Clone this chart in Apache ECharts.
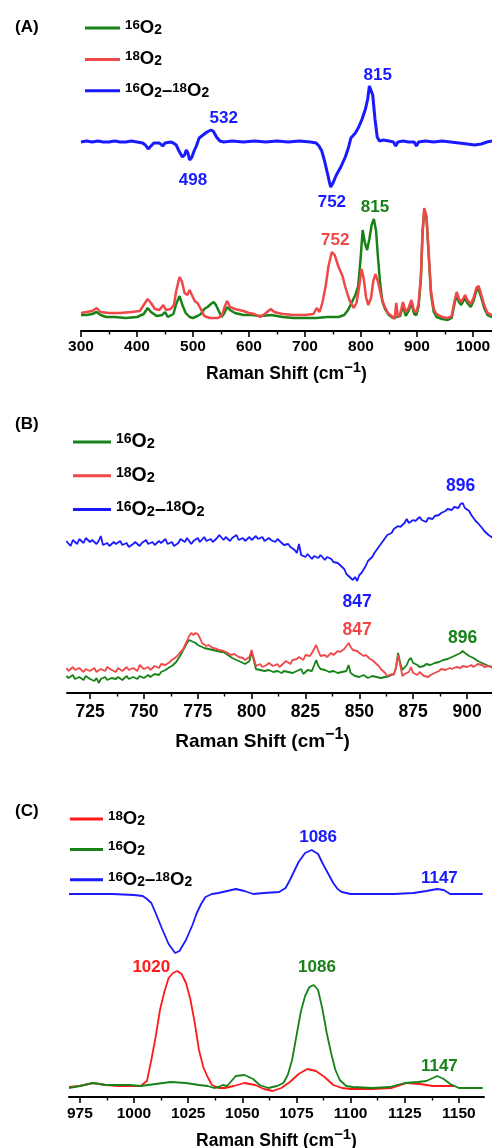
<!DOCTYPE html>
<html><head><meta charset="utf-8">
<script src="https://cdn.jsdelivr.net/npm/echarts@6/dist/echarts.min.js"></script>
<style>html,body{margin:0;padding:0;background:#fff}#c{width:492px;height:1148px}</style>
</head><body><div id="c"></div><script>
// ---------- Panel A data (Raman shift, intensity a.u.) ----------
const aTicks = [300,400,500,600,700,800,900,1000];
const aGreen = [[300,16],[310,16],[320,17],[328,19],[335,16],[345,14],[360,14],[380,13],[400,14],[412,17],[419,23],[425,19],[435,15],[445,16],[450,19],[455,14],[465,17],[470,27],[476,35],[481,26],[487,18],[494,14],[500,13],[508,15],[514,17],[520,22],[526,24],[532,27],[537,29],[541,26],[546,20],[551,14],[556,18],[561,24],[566,21],[575,18],[590,16],[605,16],[620,15],[640,16],[660,14],[680,13],[700,13],[720,13],[740,14],[760,14],[770,16],[777,21],[783,28],[790,36],[795,45],[799,70],[803,101],[807,88],[811,81],[815,92],[819,106],[823,112],[827,100],[830,76],[834,49],[838,30],[843,22],[850,16],[857,13],[863,14],[866,12],[870,15],[875,25],[880,15],[885,20],[890,28],[895,17],[899,16],[903,25],[907,52],[910,98],[913,121],[917,113],[921,75],[925,37],[930,19],[935,14],[945,12],[955,11],[962,13],[967,27],[971,36],[975,29],[979,26],[983,30],[986,33],[990,28],[996,24],[1001,30],[1006,40],[1010,42],[1014,35],[1020,23],[1026,16],[1034,14]];
const aRed = [[300,18],[310,19],[320,20],[328,23],[335,19],[350,18],[370,18],[390,19],[405,20],[412,26],[419,32],[425,28],[432,22],[440,21],[447,26],[452,21],[460,22],[466,26],[470,40],[476,54],[480,50],[485,38],[490,36],[494,41],[498,36],[503,30],[508,28],[514,22],[520,15],[530,13],[545,13],[552,16],[557,25],[561,30],[566,24],[575,22],[590,20],[600,18],[610,17],[620,14],[628,17],[639,22],[645,19],[660,17],[680,16],[700,16],[715,17],[721,23],[726,19],[731,28],[737,45],[742,65],[748,79],[753,76],[760,64],[767,55],[772,44],[777,35],[781,29],[787,23],[792,28],[797,45],[801,62],[805,52],[809,34],[813,26],[818,33],[822,50],[826,57],[831,48],[836,35],[841,26],[848,18],[855,15],[860,12],[863,28],[866,14],[870,17],[875,29],[880,19],[885,23],[890,31],[895,20],[899,19],[903,28],[907,55],[910,100],[913,123],[917,115],[921,78],[925,40],[930,22],[935,17],[945,14],[955,13],[962,15],[967,30],[971,39],[975,32],[979,29],[983,33],[986,36],[990,31],[996,27],[1001,33],[1006,43],[1010,45],[1014,38],[1020,26],[1026,18],[1034,16]];
const aBlue = [[300,189],[310,190],[320,189],[330,190],[340,189],[350,189],[360,190],[370,189],[380,189],[390,190],[400,189],[410,188],[415,186],[420,182],[425,185],[430,188],[440,188],[446,185],[450,188],[460,189],[465,188],[470,186],[475,180],[481,174],[485,176],[488,181],[491,178],[494,171],[498,174],[502,180],[506,185],[511,193],[518,196],[525,199],[532,201],[536,200],[542,194],[548,190],[555,189],[570,190],[590,189],[610,190],[630,189],[650,190],[670,189],[690,190],[710,189],[720,188],[725,185],[730,180],[735,170],[740,158],[744,148],[746,144],[750,148],[756,156],[764,164],[772,174],[778,184],[782,193],[790,198],[796,204],[802,212],[808,222],[812,232],[815,245],[818,247],[821,236],[825,212],[829,194],[833,190],[840,191],[850,190],[858,189],[862,185],[866,189],[875,190],[885,189],[895,189],[899,185],[903,189],[915,190],[930,189],[945,190],[960,189],[975,188],[990,187],[1003,186],[1015,187],[1025,189],[1034,190]];
const aBlueLabels = [[830,256,'815'],[555,213,'532'],[500,151,'498'],[748,129,'752']];
const aGreenLabels = [[825,124,'815']];
const aRedLabels = [[754,91,'752']];

// ---------- Panel B data ----------
const bTicks = [725,750,775,800,825,850,875,900];
const bGreen = [[714,17],[715,15],[717,18],[718,14],[720,16],[722,13],[723,17],[725,14],[727,12],[728,15],[729,10],[730,14],[732,16],[733,13],[735,15],[737,14],[738,16],[740,13],[742,17],[743,14],[745,16],[747,14],[748,17],[750,15],[752,18],[753,16],[755,19],[757,18],[758,21],[760,23],[762,26],[763,27],[765,31],[767,38],[768,42],[770,50],[771,53],[772,52],[774,50],[775,48],[776,47],[778,45],[780,44],[782,43],[784,42],[786,41],[787,41],[789,38],[791,35],[793,33],[795,31],[797,29],[799,32],[800,41],[801,33],[802,24],[804,23],[806,22],[808,23],[810,21],[812,22],[814,20],[815,22],[817,21],[819,20],[821,22],[823,24],[824,19],[826,23],[828,22],[830,33],[831,27],[832,24],[834,23],[836,21],[838,22],[840,20],[842,21],[844,22],[845,28],[846,20],[848,17],[850,16],[852,18],[854,15],[856,17],[858,16],[860,15],[862,16],[864,17],[866,19],[867,25],[868,40],[869,30],[870,23],[872,28],[873,33],[874,35],[875,30],[877,28],[878,26],[880,27],[881,29],[883,28],[885,30],[887,31],[889,33],[891,34],[893,36],[895,38],[897,40],[898,42],[899,40],[901,37],[903,35],[905,32],[907,30],[909,28],[910,27],[912,26]];
const bRed = [[714,25],[715,22],[717,26],[718,23],[720,25],[722,21],[723,24],[725,22],[727,25],[728,21],[730,24],[732,22],[733,26],[735,23],[737,21],[738,25],[740,22],[742,26],[743,23],[745,25],[747,22],[748,28],[750,24],[752,26],[753,23],[755,27],[757,25],[758,29],[760,28],[762,31],[763,33],[765,36],[767,41],[768,43],[770,52],[771,57],[772,60],[773,58],[774,60],[775,59],[776,55],[777,50],[779,47],[780,48],[782,45],[784,44],[785,43],[787,42],[789,40],[790,38],[792,39],[794,36],[796,35],[797,33],[799,36],[800,43],[801,35],[802,27],[804,29],[805,26],[807,28],[808,30],[810,27],[812,29],[813,26],[815,30],[816,32],[818,29],[819,33],[821,34],[822,36],[824,33],[825,38],[827,37],[828,40],[830,48],[831,42],[832,37],[834,38],[835,36],[837,40],[838,38],[840,42],[841,41],[843,44],[844,47],[845,50],[846,46],[847,43],[849,42],[850,40],[852,37],[853,38],[855,34],[856,33],[858,29],[859,27],[860,24],[862,20],[863,17],[865,19],[866,18],[867,25],[868,38],[869,28],[870,17],[871,19],[873,21],[874,26],[875,20],[877,18],[878,21],[880,17],[882,16],[883,18],[885,20],[887,22],[888,24],[890,23],[892,25],[893,24],[895,26],[897,25],[898,27],[900,26],[902,28],[903,26],[905,29],[907,28],[908,26],[910,27],[912,25]];
const bBlue = [[714,152],[716,147],[717,153],[719,149],[720,154],[722,150],[723,155],[725,151],[726,153],[728,149],[729,152],[730,157],[731,148],[733,150],[734,147],[736,151],[737,149],[739,152],[740,148],[742,150],[743,146],[745,149],[746,151],[748,147],[749,150],[751,153],[752,149],[754,151],[755,148],[757,152],[758,150],[760,154],[761,149],[763,151],[764,147],[766,150],[767,154],[769,151],[770,155],[772,149],[773,152],[775,155],[776,151],[778,156],[779,152],[781,154],[782,151],[784,155],[785,158],[787,153],[788,156],[790,152],[791,155],[793,158],[794,153],[796,155],[797,152],[799,156],[800,153],[802,157],[803,154],[805,156],[806,152],[808,155],[809,153],[811,151],[812,154],[814,150],[815,148],[817,149],[818,146],[820,143],[821,140],[822,149],[823,138],[825,136],[826,139],[828,134],[829,137],[831,135],[832,138],[834,133],[835,136],[837,134],[838,131],[840,130],[841,128],[843,124],[844,119],[846,115],[847,113],[848,116],[849,112],[850,118],[851,120],[853,127],[854,132],[856,136],[857,140],[859,146],[860,149],[862,155],[863,158],[865,160],[866,164],[868,167],[869,166],[871,170],[872,174],[873,170],[875,173],[876,172],[878,176],[879,173],[881,171],[882,175],[884,174],[885,177],[887,178],[888,180],[890,182],[891,184],[893,183],[894,186],[896,185],[897,189],[898,190],[899,185],[901,182],[902,178],[904,172],[905,170],[907,165],[908,162],[910,158],[912,155]];
const bBlueLabels = [[897,207,'896'],[849,91,'847']];
const bRedLabels = [[849,63,'847']];
const bGreenLabels = [[898,55,'896']];

// ---------- Panel C data ----------
const cTicks = [975,1000,1025,1050,1075,1100,1125,1150];
const cRed = [[970,10],[975,11],[981,14],[987,12],[993,11],[998,11],[1003,11],[1006,16],[1008,37],[1010,60],[1012,87],[1014,105],[1016,119],[1018,124],[1020,126],[1022,123],[1024,114],[1026,98],[1028,75],[1030,47],[1032,30],[1034,20],[1036,12],[1039,9],[1042,9],[1046,11],[1051,14],[1056,12],[1060,8],[1064,6],[1068,9],[1072,15],[1076,23],[1080,28],[1084,26],[1088,20],[1092,12],[1096,9],[1100,8],[1110,8],[1119,9],[1126,14],[1132,13],[1138,11],[1143,11],[1148,11]];
const cGreen = [[970,9],[975,11],[981,14],[987,12],[993,12],[998,12],[1003,11],[1010,13],[1017,15],[1024,14],[1030,12],[1034,11],[1037,9],[1039,10],[1041,12],[1043,11],[1045,16],[1047,21],[1051,22],[1055,18],[1058,12],[1062,9],[1066,11],[1069,14],[1071,22],[1073,37],[1075,61],[1077,85],[1079,101],[1081,110],[1083,112],[1085,107],[1087,88],[1089,64],[1091,44],[1093,27],[1095,17],[1098,11],[1101,10],[1110,9],[1118,10],[1125,14],[1131,15],[1135,16],[1138,19],[1140,21],[1143,18],[1146,13],[1150,9],[1155,9],[1161,9]];
const cBlue = [[970,203],[980,203],[990,203],[1000,202],[1004,201],[1006,198],[1008,194],[1010,184],[1013,168],[1016,153],[1019,144],[1021,146],[1024,157],[1027,172],[1029,184],[1031,193],[1033,200],[1036,203],[1039,204],[1043,206],[1047,208],[1051,206],[1055,203],[1060,204],[1067,205],[1070,209],[1072,217],[1074,226],[1076,235],[1079,244],[1082,247],[1085,243],[1087,234],[1090,222],[1092,214],[1094,208],[1096,205],[1100,203],[1110,203],[1120,203],[1129,204],[1135,206],[1140,208],[1143,207],[1146,203],[1150,203],[1155,203],[1161,203]];
const cBlueLabels = [[1085,260,'1086'],[1141,219,'1147']];
const cRedLabels = [[1008,130,'1020']];
const cGreenLabels = [[1084.5,130,'1086'],[1141,31,'1147']];

// ---------- styling ----------
const FONT = '"Liberation Sans", Arial, sans-serif';
const GREEN = '#178217', RED = '#f04848', RED_C = '#ff1a1a', BLUE = '#1a1aff';
const legendText = {
  '16': '{sup|16}{o|O}{sub|2}',
  '18': '{sup|18}{o|O}{sub|2}',
  'd': '{sup|16}{o|O}{sub|2}{o|–}{sup|18}{o|O}{sub|2}'
};
function legendRich(fs) {
  return {
    sup: {fontSize: fs*0.72, fontWeight:'bold', fontFamily: FONT, color:'#000', verticalAlign:'top', lineHeight: fs*0.72},
    o: {fontSize: fs, fontWeight:'bold', fontFamily: FONT, color:'#000', verticalAlign:'bottom', lineHeight: fs, padding:[fs*0.45,0,0,0]},
    sub: {fontSize: fs*0.75, fontWeight:'bold', fontFamily: FONT, color:'#000', verticalAlign:'bottom', lineHeight: fs*0.75}
  };
}
function axisName(fs) {
  return {
    name: '{n|Raman Shift (cm}{s|−1}{n|)}',
    rich: {
      n: {fontSize: fs, fontWeight:'bold', fontFamily: FONT, color:'#000', verticalAlign:'bottom', lineHeight: fs},
      s: {fontSize: fs*0.85, fontWeight:'bold', fontFamily: FONT, color:'#000', verticalAlign:'bottom', lineHeight: fs*0.85, padding:[0,0,fs*0.45,0]}
    }
  };
}
function mp(labels, color, fs, weight) {
  return {
    symbol:'circle', symbolSize:0, silent:true,
    label:{show:true, position:'inside', color, fontSize:fs, fontWeight:weight, fontFamily:FONT, formatter:'{b}'},
    data: labels.map(l => ({name:l[2], coord:[l[0], l[1]]}))
  };
}
function line(name, data, color, width, gi, labels, lfs, lw) {
  return {
    name, type:'line', data, xAxisIndex: gi*2, yAxisIndex: gi,
    showSymbol:false, symbol:'none', animation:false, silent:true,
    lineStyle:{color, width}, itemStyle:{color},
    markPoint: labels ? mp(labels, color, lfs, lw) : undefined
  };
}
const panels = [
  {grid:{left:81, width:411, top:60, height:271}, min:300, max:1034, ticks:aTicks, step:100, ymax:271,
   labelFs:15.5, labelMargin:8, nameFs:17.5, nameGap:35, namePad:[0,0,0,0]},
  {grid:{left:67, width:425, top:430, height:263}, min:714.3, max:911.6, ticks:bTicks, step:25, ymax:263,
   labelFs:17.5, labelMargin:10, nameFs:19, nameGap:39, namePad:[0,34,0,0]},
  {grid:{left:69, width:415, top:800, height:297}, min:970, max:1161.6, ticks:cTicks, step:25, ymax:297,
   labelFs:15.5, labelMargin:9, nameFs:17.5, nameGap:36, namePad:[0,0,0,0]}
];
const grid = [], xAxis = [], yAxis = [];
panels.forEach((p, i) => {
  grid.push(Object.assign({containLabel:false, outerBoundsMode:'none'}, p.grid));
  const minors = p.ticks.map(t => t - p.step/2).concat([p.ticks[p.ticks.length-1] + p.step/2]).filter(v => v > p.min && v < p.max);
  const nm = axisName(p.nameFs);
  xAxis.push({
    gridIndex:i, type:'value', position:'bottom', min:p.min, max:p.max,
    axisLine:{show:true, onZero:false, lineStyle:{color:'#000', width:2}},
    axisTick:{show:true, inside:false, length:6, customValues:p.ticks, lineStyle:{color:'#000', width:1.6}},
    axisLabel:{show:true, customValues:p.ticks, formatter: v => String(v), color:'#000', fontWeight:'bold', fontSize:p.labelFs, fontFamily:FONT, margin:p.labelMargin},
    splitLine:{show:false},
    name:nm.name, nameLocation:'middle', nameGap:p.nameGap, nameMoveOverlap:false,
    nameTextStyle:{rich:nm.rich, padding:p.namePad}
  });
  xAxis.push({
    gridIndex:i, type:'value', position:'bottom', min:p.min, max:p.max,
    axisLine:{show:false, onZero:false},
    axisTick:{show:true, inside:false, length:3.5, customValues:minors, lineStyle:{color:'#000', width:1.4}},
    axisLabel:{show:false}, splitLine:{show:false}
  });
  yAxis.push({gridIndex:i, type:'value', min:0, max:p.ymax, show:false});
});

const series = [
  line('A|16', aGreen, GREEN, 2.5, 0, aGreenLabels, 17, 'bold'),
  line('A|18', aRed, RED, 2.5, 0, aRedLabels, 17, 'bold'),
  line('A|d', aBlue, BLUE, 3, 0, aBlueLabels, 17, 'bold'),
  line('B|16', bGreen, GREEN, 1.8, 1, bGreenLabels, 17.5, 'bold'),
  line('B|18', bRed, RED, 1.8, 1, bRedLabels, 17.5, 'bold'),
  line('B|d', bBlue, BLUE, 1.8, 1, bBlueLabels, 17.5, 'bold'),
  line('C|18', cRed, RED_C, 1.8, 2, cRedLabels, 17, 'bold'),
  line('C|16', cGreen, GREEN, 1.8, 2, cGreenLabels, 17, 'bold'),
  line('C|d', cBlue, BLUE, 1.8, 2, cBlueLabels, 17, 'bold')
];
function legend(left, top, names, w, gap, fs) {
  return {
    left, top, padding:0, orient:'vertical', itemWidth:w, itemHeight:3, itemGap:gap, icon:'rect',
    selectedMode:false, data:names,
    formatter: n => legendText[n.split('|')[1]],
    textStyle:{rich: legendRich(fs), color:'#000'}
  };
}
const option = {
  animation:false,
  backgroundColor:'#fff',
  title:[
    {text:'(A)', left:10, top:14, textStyle:{fontSize:17, fontWeight:'bold', color:'#000', fontFamily:FONT}},
    {text:'(B)', left:10, top:411, textStyle:{fontSize:17, fontWeight:'bold', color:'#000', fontFamily:FONT}},
    {text:'(C)', left:10, top:798, textStyle:{fontSize:17, fontWeight:'bold', color:'#000', fontFamily:FONT}}
  ],
  legend:[
    legend(85, 10, ['A|16','A|18','A|d'], 35, 4, 18.5),
    legend(73, 423, ['B|16','B|18','B|d'], 38, 5, 19.5),
    legend(70, 801, ['C|18','C|16','C|d'], 33, 3, 18.5)
  ],
  grid, xAxis, yAxis, series
};
const chart = echarts.init(document.getElementById('c'), null, {renderer:'canvas'});
chart.setOption(option);
</script></body></html>
